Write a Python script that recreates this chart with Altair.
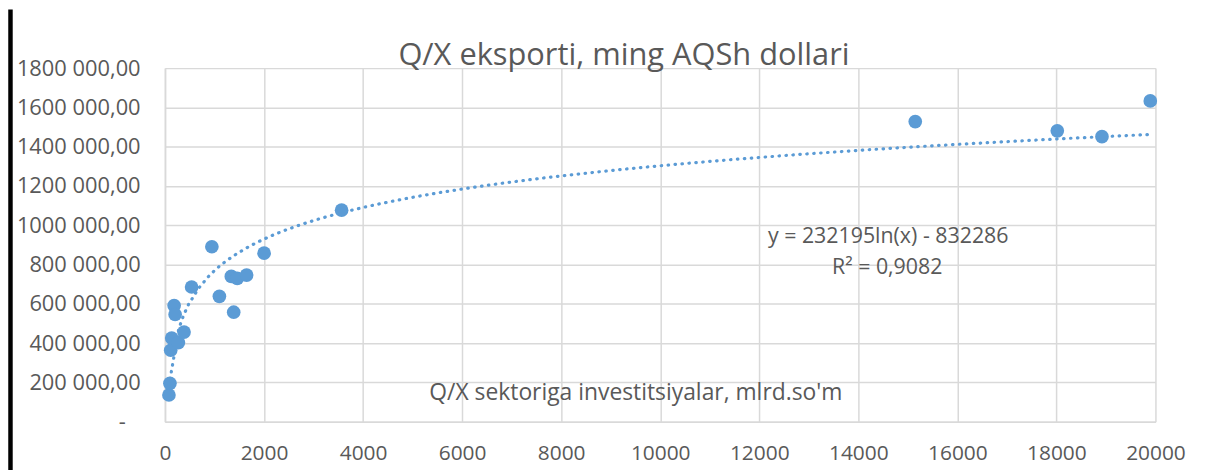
import altair as alt
import pandas as pd

# Data
x_invest = [80, 100, 116, 136, 271, 385, 185, 205, 538, 947, 1099, 1388,
            1340, 1460, 1649, 2002, 3567, 15150, 18018, 18920, 19896]
y_export = [136500, 195600, 364000, 426000, 403000, 456600, 591600, 546000,
            686000, 891000, 638600, 557700, 739700, 729600, 746700, 858000,
            1077000, 1528000, 1481000, 1451000, 1633000]
x_ticks = list(range(0, 20001, 2000))
y_ticks = list(range(0, 1800001, 200000))

chart_title = "Q/X eksporti, ming AQSh dollari"
x_title = "Q/X sektoriga investitsiyalar, mlrd.so'm"
eq_lines = ["y = 232195ln(x) - 832286", "R² = 0,9082"]

BLUE = "#5B9BD5"
GREY = "#595959"
FONT = "Open Sans"

df = pd.DataFrame({"x": x_invest, "y": y_export})

xaxis = alt.Axis(values=x_ticks, format="d", labelPadding=21, labelFlush=False,
                 labelOverlap=False, title=None, tickCount=11)
yaxis = alt.Axis(values=y_ticks, labelFlush=False,
                 labelPadding={"condition": {"test": "datum.value == 0", "value": 40}, "value": 25},
                 labelOverlap=False, title=None, tickCount=10,
                 labelExpr="datum.value == 0 ? '-' : format(datum.value/1000, 'd') + ' 000,00'")
xscale = alt.Scale(domain=[0, 20000], nice=False, zero=True)
yscale = alt.Scale(domain=[0, 1800000], nice=False, zero=True)

points = alt.Chart(df).mark_circle(size=190, color=BLUE, opacity=1).encode(
    x=alt.X("x:Q", scale=xscale, axis=xaxis),
    y=alt.Y("y:Q", scale=yscale, axis=yaxis),
)

trend = alt.Chart(df).transform_regression("x", "y", method="log").mark_line(
    color=BLUE, strokeWidth=3.2, strokeDash=[0.5, 6.5], strokeCap="round"
).encode(
    x=alt.X("x:Q", scale=xscale, axis=xaxis),
    y=alt.Y("y:Q", scale=yscale, axis=yaxis),
)

title_txt = alt.Chart(pd.DataFrame({"t": [chart_title]})).mark_text(
    font=FONT, fontSize=31, color=GREY, align="center", baseline="alphabetic"
).encode(x=alt.value(462), y=alt.value(-3), text="t:N")

xtitle_txt = alt.Chart(pd.DataFrame({"t": [x_title]})).mark_text(
    font=FONT, fontSize=23, color=GREY, align="center", baseline="alphabetic"
).encode(x=alt.value(474), y=alt.value(334), text="t:N")

eq1 = alt.Chart(pd.DataFrame({"t": [eq_lines[0]]})).mark_text(
    font=FONT, fontSize=21.5, color=GREY, align="center", baseline="alphabetic"
).encode(x=alt.value(728), y=alt.value(176), text="t:N")
eq2 = alt.Chart(pd.DataFrame({"t": [eq_lines[1]]})).mark_text(
    font=FONT, fontSize=21.5, color=GREY, align="center", baseline="alphabetic"
).encode(x=alt.value(727), y=alt.value(207), text="t:N")

bar = alt.Chart(pd.DataFrame({"a": [0]})).mark_rule(color="black", strokeWidth=4.5).encode(
    x=alt.value(-155.5), y=alt.value(-59), y2=alt.value(410)
)

chart = alt.layer(trend, points, title_txt, xtitle_txt, eq1, eq2, bar).properties(
    width=997, height=356,
    autosize=alt.AutoSizeParams(type="none"),
    padding={"left": 158, "top": 59, "right": 68, "bottom": 47},
).configure_view(stroke=None).configure_axis(
    gridColor="#D9D9D9", gridWidth=1.5, domainColor="#D9D9D9", domainWidth=1.5,
    ticks=False, labelFont=FONT, labelFontSize=21, labelColor=GREY,
    labelOverlap=False,
).configure_axisY(labelFontSize=22)

chart.save("out.html", embed_options={"renderer": "svg", "actions": False})
